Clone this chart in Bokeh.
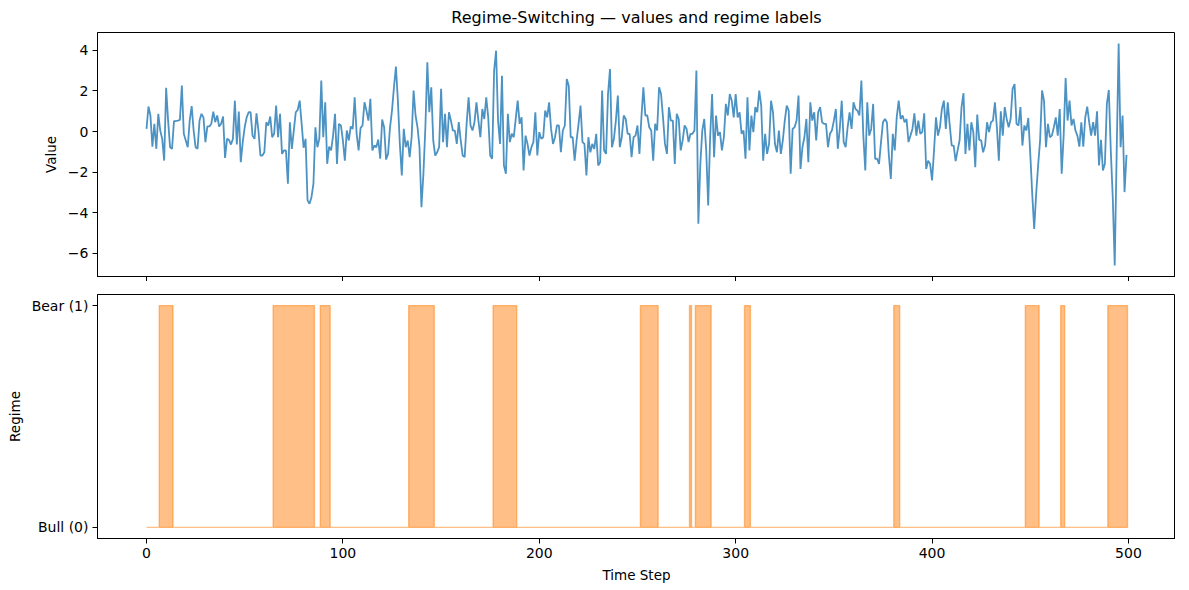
import numpy as np
from bokeh.plotting import figure
from bokeh.layouts import column
from bokeh.models import Range1d, FixedTicker
from bokeh.embed import file_html
from bokeh.resources import INLINE

# ---- data ----
values = [
    0.13, 1.23, 0.79, -0.74, 0.38, -0.85, 0.87, 0.05, -0.36, -1.43,
    2.15, 0.54, -0.77, -0.85, 0.51, 0.52, 0.54, 0.57, 2.26, -0.11,
    -0.44, -0.77, 0.54, 1.25, 0.05, -0.77, -0.85, 0.54, 0.87, 0.70,
    -0.52, 0.25, 0.25, 0.38, 0.98, 0.46, 0.79, 0.25, 0.38, 0.74,
    -1.30, -0.36, -0.41, -0.64, -0.36, 1.52, -0.64, 0.98, -1.51, -0.52,
    0.21, 0.70, 0.95, 0.95, -0.20, -0.36, 0.90, 0.05, -1.18, -1.18,
    -1.02, 0.46, 0.30, 0.74, -0.28, -0.11, 1.28, -0.28, 0.87, -1.10,
    -0.93, -0.93, -2.57, 0.46, -0.85, 0.05, 0.95, 1.07, 1.52, 0.38,
    -0.80, -0.36, -3.39, -3.56,
    -3.23, -2.57, 0.21, -0.77, -0.36, 2.51, -0.28, 1.44, -1.59, -0.74,
    -0.93, -0.20, 0.87, -1.59, 0.38, 0.30, -0.44, -1.43, 0.05, -0.44,
    0.25, 0.13, 1.69, -0.11, -0.93, 0.18, 0.30, 1.44, 1.03, 0.54,
    1.61, -0.93, -0.69, -0.77, -0.39, -1.34, 0.59, 0.21, -1.38, -1.10,
    0.21, 1.03, 2.18, 3.20, 1.52, -0.61, -2.16, 0.13, -0.77, -0.44,
    -1.26, -0.28, 2.02, 0.79, 0.21, -0.77, -3.72, -2.08, 0.21, 3.41,
    0.95, 2.18, -0.44, -1.18, -1.02, -0.77, 2.10, -0.52, 0.87, -0.77,
    0.95, 0.54, 0.05, 0.05, -0.61, 0.46, -0.44, -1.18, -1.26, 0.38,
    1.69,
    0.30, 0.05, 0.46, 1.44, 0.54, -0.28, 1.11, 0.62, 1.69, 0.70,
    -1.18, -1.34, 3.00, 3.98, 0.54, -0.61, 2.75, -1.67, -2.08, 0.87,
    -0.52, -0.11, -0.28, 0.62, 1.52, 0.38, 0.70, -1.92, -0.20, -0.61,
    -1.18, -0.77, -0.52, 0.95, -1.18, -0.03, -0.36, -0.28, 1.03, 0.70,
    1.44, 0.13, -0.61, -0.28, 0.30, 0.30, -1.02, 0.05, 0.30, 2.59,
    2.26, -0.28, -0.28, -1.43, -0.44, 0.38, 1.28, -0.52, -0.61, -2.16,
    -0.28, -1.02, -0.61, -0.85, -0.11, -1.67, -1.51, 2.02, -0.93, -1.10,
    1.85, 3.08, -0.77, -0.36, 0.54, 1.77, -0.77, -0.28, 0.79, 0.62,
    -0.11, -0.11, -1.26, -0.28, -0.20, 0.30,
    -1.10, 0.70, 2.18, 0.79, 0.79, 0.21, 0.05, -1.43, 0.38, 0.05,
    2.18, 1.85, 0.70, -0.61, -1.10, 1.20, 0.54, 0.54, -1.59, 0.87,
    0.62, -0.93, -0.44, 0.30, 0.13, -0.52, -0.11, -0.11, 0.05, 3.00,
    -4.54, -1.59, 0.05, 0.62, -0.93, -3.64, -0.28, 1.85, -1.26, 0.79,
    -0.20, -0.03, -0.93, -0.28, 1.36, 0.79, 1.85, 1.52, 0.70, 1.85,
    0.70, 0.95, -0.11, 0.05, -1.34, 1.69, -0.93, 0.79, -0.03, 1.20,
    0.95, 2.02, 1.28, -1.43, -0.11, -1.10, -0.61, 1.52, 0.95, -0.61,
    -1.02, 0.05, -1.10, -0.44, 0.54, 1.28, 1.03, -2.08, 0.13, 0.21,
    0.54, 1.77, -1.84, -0.77,
    -0.28, 0.62, -1.51, 1.44, 0.54, 0.95, -0.44, 0.95, 1.20, 0.46,
    0.38, 0.38, -0.77, -0.11, 0.05, 0.54, 1.11, -0.85, 0.13, 1.52,
    -0.52, -0.77, 0.21, 0.95, 0.13, 1.44, 1.11, 1.03, 0.79, 2.51,
    -0.20, -1.92, 1.44, -0.20, 0.13, 1.36, -1.34, -1.34, -1.59, -0.52,
    0.46, 0.62, 0.46, -1.18, -2.33, -0.11, -0.93, 0.70, 1.52, 0.62,
    0.79, 0.46, 0.62, -0.52, -0.20, 0.13, 0.90, -0.20, 0.54, -0.11,
    -0.03, 0.90, -1.84, -1.43, -1.59, -2.41, -0.93, 0.70, -0.20, 0.21,
    1.11, 1.52, 0.13, 1.44, 0.30, -0.69, -0.69, -1.46, -0.93, -0.44,
    1.20, 1.89, -1.10, 0.38,
    -0.93, 0.46, -0.03, -1.75, 0.84, -0.41, -0.44, -1.02, -0.69, 0.46,
    -0.03, 0.46, 0.54, 1.44, 0.21, -1.43, 1.00, -0.20, 1.20, 0.62,
    0.21, 0.62, 2.10, 2.34, 0.38, 0.30, 1.20, -0.69, 0.30, 0.05,
    0.67, -1.10, -3.07, -4.79, -3.07, -1.67, -0.44, 2.02, 1.52, -0.77,
    0.38, -0.28, -0.20, 0.21, 0.70, -0.20, 1.11, -2.08, -0.20, 2.64,
    0.54, 1.52, 0.30, 0.62, 0.05, -0.20, -0.74, 0.46, -0.74, 0.70,
    1.23, 0.46, -0.20, 0.46, -0.20, 1.00, -1.67, -0.41, -1.92, -1.59,
    1.36, 2.05, -0.93, -3.23, -6.59, -1.00, 4.33, -0.77, 0.79, -2.98,
    -1.15,
]

# Bear regime periods (first step, last step), inclusive
bear_periods = [(7, 13), (65, 85), (89, 93), (134, 146), (177, 188), (252, 260),
                (277, 277), (280, 287), (305, 307), (381, 383), (448, 454),
                (466, 467), (490, 499)]

x_ticks = [0, 100, 200, 300, 400, 500]
value_ticks = [-6, -4, -2, 0, 2, 4]
regime_ticks = [0, 1]
regime_labels = ["Bull (0)", "Bear (1)"]
title_text = "Regime-Switching \u2014 values and regime labels"

# ---- build ----
n = len(values)
t = np.arange(n)
vals = np.array(values, dtype=float)
regime = np.zeros(n)
for a, b in bear_periods:
    regime[a:b + 1] = 1.0

# step ("mid") polygon for the regime area
edges = np.concatenate([[0.0], t[:-1] + 0.5, [n - 0.5]])
sx = np.empty(2 * n)
sx[0::2] = edges[:-1]
sx[1::2] = edges[1:]
sy = np.repeat(regime, 2)
px = np.concatenate([sx, [edges[-1], edges[0]]])
py = np.concatenate([sy, [0.0, 0.0]])

FONT = "DejaVu Sans"
x_range = Range1d(-0.05 * (n - 1), (n - 1) * 1.05)
lo, hi = vals.min(), vals.max()
pad = 0.05 * (hi - lo)


def style(p):
    p.outline_line_color = "black"
    p.outline_line_alpha = 1.0
    p.outline_line_width = 1
    p.grid.visible = False
    p.background_fill_color = "white"
    p.border_fill_color = "white"
    for ax in p.axis:
        ax.axis_line_color = "black"
        ax.axis_line_width = 1
        ax.major_tick_out = 5
        ax.major_tick_in = 0
        ax.major_tick_line_color = "black"
        ax.minor_tick_line_color = None
        ax.major_label_text_font = FONT
        ax.major_label_text_font_size = "14px"
        ax.major_label_text_color = "black"
        ax.major_label_standoff = 4
        ax.axis_label_text_font = FONT
        ax.axis_label_text_font_size = "13.5px"
        ax.axis_label_text_font_style = "normal"
        ax.axis_label_text_color = "black"
        ax.axis_label_standoff = 6


p1 = figure(frame_width=1078, frame_height=244, x_range=x_range,
            y_range=Range1d(lo - pad, hi + pad),
            output_backend="svg", toolbar_location=None,
            min_border_left=97, min_border_right=0, min_border_top=32,
            min_border_bottom=0, title=title_text)
style(p1)
p1.title.align = "center"
p1.title.text_font = FONT
p1.title.text_font_size = "16px"
p1.title.text_font_style = "normal"
p1.title.text_color = "black"
p1.title.standoff = 11
p1.line(t, vals, line_color="#1f77b4", line_alpha=0.8, line_width=1.8)
p1.yaxis.axis_label = "Value"
p1.yaxis.ticker = FixedTicker(ticks=value_ticks)
p1.yaxis.major_label_overrides = {v: str(v).replace("-", "\u2212") for v in value_ticks}
p1.xaxis.ticker = FixedTicker(ticks=x_ticks)
p1.xaxis.major_label_text_font_size = "4px"
p1.xaxis.major_label_text_color = None
p1.xaxis.major_label_standoff = 0

p2 = figure(frame_width=1078, frame_height=244, x_range=x_range,
            y_range=Range1d(-0.05, 1.05),
            output_backend="svg", toolbar_location=None,
            min_border_left=97, min_border_right=0, min_border_top=13,
            min_border_bottom=0)
style(p2)
p2.patch(px, py, fill_color="#ff7f0e", fill_alpha=0.5,
         line_color="#ff7f0e", line_alpha=0.5, line_width=1.4)
p2.yaxis.ticker = FixedTicker(ticks=regime_ticks)
p2.yaxis.major_label_overrides = dict(zip(regime_ticks, regime_labels))
p2.yaxis.axis_label = "Regime"
p2.xaxis.ticker = FixedTicker(ticks=x_ticks)
p2.xaxis.axis_label = "Time Step"
p2.xaxis.axis_label_standoff = 6

layout = column(p1, p2)
open("out.html", "w").write(file_html(layout, INLINE))
